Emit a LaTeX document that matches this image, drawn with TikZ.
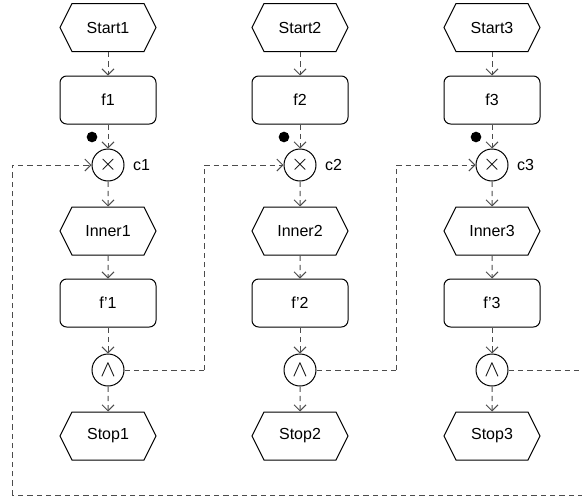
\documentclass[tikz,border=0pt]{standalone}
\usepackage{fontspec}
\setmainfont{Liberation Sans}
\usetikzlibrary{shapes.symbols,arrows.meta}
\tikzset{
  hexa/.style={shape=signal, signal to=west and east, signal pointer angle=127, draw=black, minimum width=72pt, minimum height=36pt, inner sep=0pt, line width=0.75pt},
  func/.style={shape=rectangle, rounded corners=5pt, draw=black, minimum width=72pt, minimum height=36pt, line width=0.75pt},
  conn/.style={shape=circle, draw=black, minimum size=24pt, inner sep=0pt, line width=0.75pt, font=\fontsize{19}{19}\selectfont},
  token/.style={shape=circle, fill=black, minimum size=8pt, inner sep=0pt},
  flow/.style={draw=black!70, line width=0.75pt, dash pattern=on 4pt off 3pt, -{Straight Barb[length=4.5pt,width=9pt]}},
  back/.style={draw=black!70, line width=0.75pt, dash pattern=on 4pt off 3pt}
}

\begin{document}
\begin{tikzpicture}[x=0.75pt, y=-0.75pt, font=\fontsize{12}{14}\selectfont]
\clip (0,0) rectangle (582,500);

\node[hexa](s1) at (108,27.5) {Start1};
\node[func](f1) at (108,100) {f1};
\node[conn, label={[label distance=3pt, font=\fontsize{12}{14}\selectfont]right:c1}](c1) at (108,165) {$\times$};
\node[hexa](i1) at (108,231) {Inner1};
\node[func](g1) at (108,303) {f'1};
\node[conn](a1) at (108,370) {$\wedge$};
\node[hexa](e1) at (108,436) {Stop1};
\node[token](t1) at (92,137) {};

\node[hexa](s2) at (300,27.5) {Start2};
\node[func](f2) at (300,100) {f2};
\node[conn, label={[label distance=3pt, font=\fontsize{12}{14}\selectfont]right:c2}](c2) at (300,165) {$\times$};
\node[hexa](i2) at (300,231) {Inner2};
\node[func](g2) at (300,303) {f'2};
\node[conn](a2) at (300,370) {$\wedge$};
\node[hexa](e2) at (300,436) {Stop2};
\node[token](t2) at (284,137) {};

\node[hexa](s3) at (492,27.5) {Start3};
\node[func](f3) at (492,100) {f3};
\node[conn, label={[label distance=3pt, font=\fontsize{12}{14}\selectfont]right:c3}](c3) at (492,165) {$\times$};
\node[hexa](i3) at (492,231) {Inner3};
\node[func](g3) at (492,303) {f'3};
\node[conn](a3) at (492,370) {$\wedge$};
\node[hexa](e3) at (492,436) {Stop3};
\node[token](t3) at (476,137) {};

\path[flow] (s1) edge (f1);
\path[flow] (f1) edge (c1);
\path[flow] (c1) edge (i1);
\path[flow] (i1) edge (g1);
\path[flow] (g1) edge (a1);
\path[flow] (a1) edge (e1);

\path[flow] (s2) edge (f2);
\path[flow] (f2) edge (c2);
\path[flow] (c2) edge (i2);
\path[flow] (i2) edge (g2);
\path[flow] (g2) edge (a2);
\path[flow] (a2) edge (e2);

\path[flow] (s3) edge (f3);
\path[flow] (f3) edge (c3);
\path[flow] (c3) edge (i3);
\path[flow] (i3) edge (g3);
\path[flow] (g3) edge (a3);
\path[flow] (a3) edge (e3);

% back edges
\coordinate (k1) at (204,370);
\coordinate (k2) at (396,370);
\coordinate (k3) at (600,370);
\coordinate (k4) at (600,495);
\coordinate (k5) at (12,495);
\draw[back] (a1) -- (k1);
\draw[flow] (k1) |- (c2);
\draw[back] (a2) -- (k2);
\draw[flow] (k2) |- (c3);
\draw[back] (a3) -- (k3) -- (k4) -- (k5);
\draw[flow] (k5) |- (c1);
\end{tikzpicture}
\end{document}
